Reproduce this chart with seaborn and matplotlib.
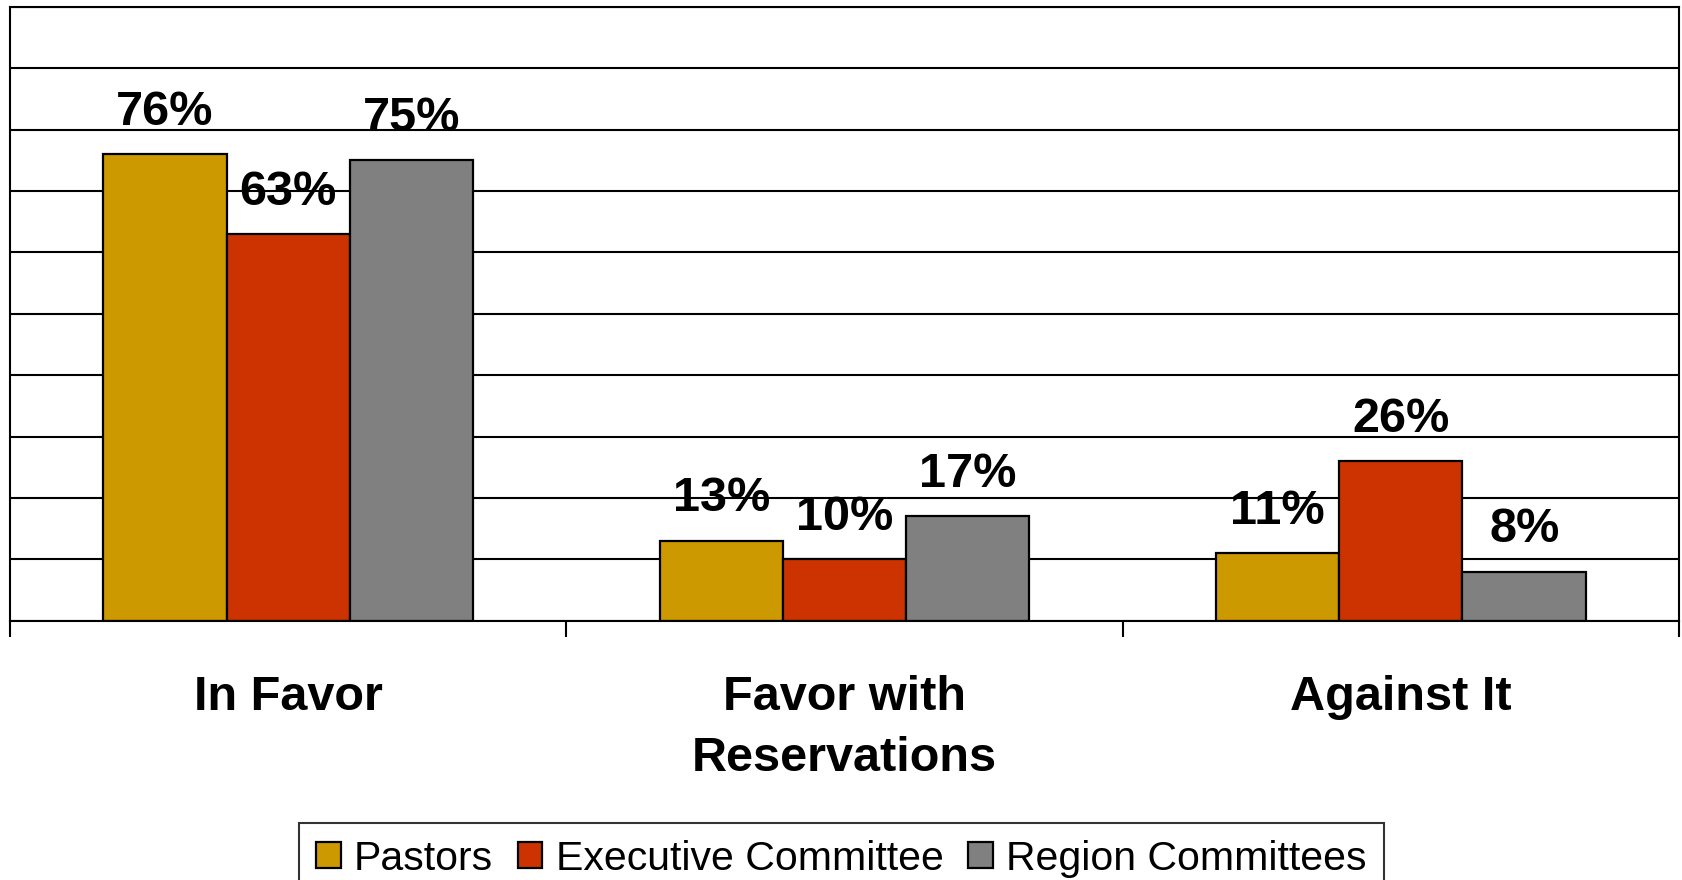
import numpy as np
import pandas as pd
import matplotlib
matplotlib.use('Agg')
import matplotlib.pyplot as plt
import seaborn as sns

# data
categories = ['In Favor', 'Favor with\nReservations', 'Against It']
groups = ['Pastors', 'Executive Committee', 'Region Committees']
pastors = [0.76, 0.13, 0.11]
executive = [0.63, 0.10, 0.26]
region = [0.75, 0.17, 0.08]
colors = ['#CC9900', '#CC3300', '#808080']

sns.set_style('white')
plt.rcParams['font.family'] = ['Liberation Sans', 'DejaVu Sans']
plt.rcParams['text.color'] = 'black'
plt.rcParams['xtick.color'] = 'black'

df = pd.DataFrame({
    'category': categories * 3,
    'group': [g for g in groups for _ in categories],
    'value': pastors + executive + region,
})

fig = plt.figure(figsize=(16.83, 8.8), dpi=100)
ax = fig.add_axes([10 / 1683, 1 - 620.7 / 880, 1669 / 1683, 613.7 / 880])

sns.barplot(data=df, x='category', y='value', hue='group', order=categories,
            hue_order=groups, palette=colors, width=0.665, saturation=1,
            edgecolor='black', linewidth=1.6, ax=ax, errorbar=None)

for cont in ax.containers:
    ax.bar_label(cont, labels=[f'{v * 100:.0f}%' for v in cont.datavalues],
                 padding=14, fontsize=35, fontweight='bold', color='black')

ax.set_ylim(0, 1.0)
ax.set_xlim(-0.5, 2.5)
ax.set_yticks(np.arange(0, 1.01, 0.1))
ax.yaxis.grid(True, color='black', linewidth=1.5)
ax.set_axisbelow(True)
ax.tick_params(axis='y', length=0, labelleft=False)

ax.set_xticks([0, 1, 2])
ax.set_xticklabels(categories, fontsize=35, fontweight='bold', linespacing=1.45,
                   color='black')
ax.set_xticks([-0.5, 0.5, 1.5, 2.5], minor=True)
ax.tick_params(axis='x', which='major', length=0, pad=39)
ax.tick_params(axis='x', which='minor', length=11.5, width=1.5, color='black',
               direction='out', bottom=True)
ax.set_xlabel('')
ax.set_ylabel('')
for s in ax.spines.values():
    s.set_visible(True)
    s.set_color('black')
    s.set_linewidth(1.5)

handles, labels = ax.get_legend_handles_labels()
ax.get_legend().remove()
leg = fig.legend(handles, labels, loc='upper center', bbox_to_anchor=(0.5, 1 - 822.7 / 880),
                 ncol=3, fontsize=29.5, frameon=True, fancybox=False, edgecolor='black',
                 handlelength=0.6, handleheight=0.6, handletextpad=0.33,
                 columnspacing=0.6, borderpad=0.42, borderaxespad=0)
leg.get_frame().set_linewidth(1.5)
for t in leg.get_texts():
    t.set_color('black')

fig.savefig('out.png', dpi=100)
